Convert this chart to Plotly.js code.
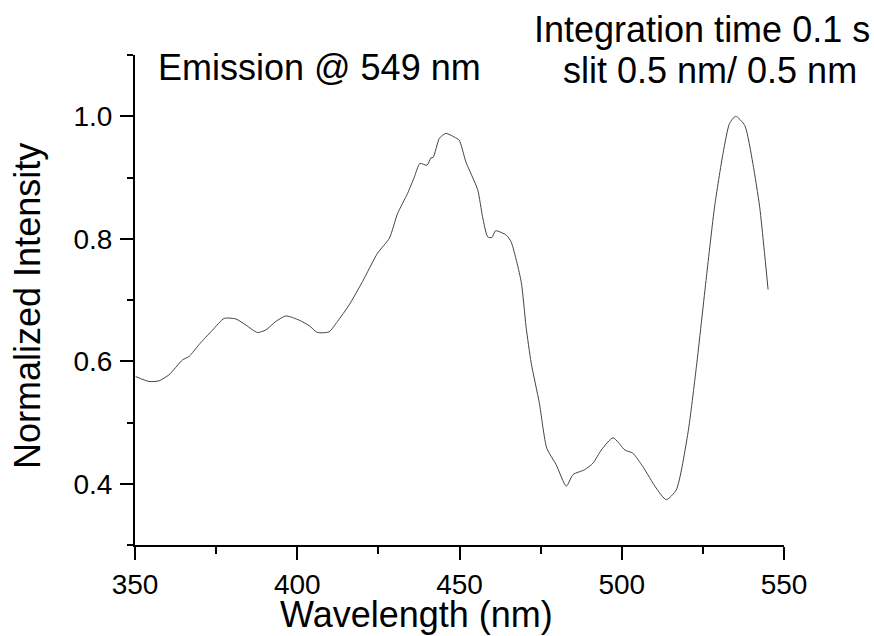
<!DOCTYPE html>
<html>
<head>
<meta charset="utf-8">
<script src="https://cdn.plot.ly/plotly-3.0.1.min.js"></script>
<style>html,body{margin:0;padding:0;background:#fff;}#chart{width:874px;height:636px;}</style>
</head>
<body>
<div id="chart"></div>
<script>
const wavelength = [350.2,354.3,357.4,360.5,364.6,366.7,369.7,373.9,377.5,381.1,384.2,387.7,390.3,393.4,396.5,400.6,403.7,406.2,409.8,412.4,416.0,420.1,424.7,428.4,430.9,434.0,436.1,437.8,440.0,441.2,441.9,443.8,445.8,448.4,449.9,452.0,455.6,457.1,458.7,460.0,461.1,464.4,465.9,469.0,470.5,472.1,474.6,476.9,479.8,482.9,485.0,488.6,491.2,493.7,497.3,501.0,503.4,506.5,510.6,513.7,516.8,520.4,523.0,526.1,528.6,531.2,533.2,535.1,537.9,540.4,542.5,543.8,545.1];
const intensity = [0.575,0.567,0.568,0.578,0.602,0.608,0.627,0.651,0.670,0.669,0.659,0.647,0.651,0.665,0.674,0.667,0.658,0.647,0.648,0.665,0.692,0.730,0.776,0.801,0.841,0.874,0.901,0.923,0.920,0.932,0.933,0.964,0.972,0.966,0.961,0.925,0.880,0.836,0.803,0.802,0.813,0.806,0.795,0.730,0.657,0.597,0.532,0.458,0.431,0.396,0.415,0.423,0.434,0.455,0.475,0.455,0.450,0.428,0.393,0.374,0.390,0.483,0.591,0.738,0.852,0.939,0.988,1.000,0.985,0.923,0.852,0.787,0.717];
const xTickVals = [350,400,450,500,550];
const yTickVals = [0.4,0.6,0.8,1.0];
const yTickText = ["0.4","0.6","0.8","1.0"];
const xTitle = 'Wavelength (nm)';
const yTitle = 'Normalized Intensity';

const font = "Liberation Sans, Arial, sans-serif";
Plotly.newPlot('chart', [{
  x: wavelength, y: intensity, type: 'scatter', mode: 'lines',
  line: {color: '#444444', width: 1, shape: 'spline', smoothing: 0.6},
  hoverinfo: 'none'
}], {
  width: 874, height: 636,
  margin: {l: 135, r: 90, t: 55, b: 91},
  paper_bgcolor: '#ffffff', plot_bgcolor: '#ffffff',
  showlegend: false,
  font: {family: font, color: '#000'},
  xaxis: {
    range: [350, 550], tickvals: xTickVals, ticktext: xTickVals.map(String),
    showgrid: false, zeroline: false, showline: true, linecolor: '#000', linewidth: 2,
    ticks: 'outside', ticklen: 13, tickwidth: 2, tickcolor: '#000',
    tickfont: {size: 28, family: font},
    minor: {dtick: 25, tick0: 350, ticks: 'outside', ticklen: 7, tickwidth: 2, tickcolor: '#000', showgrid: false},
    automargin: false
  },
  yaxis: {
    range: [0.3, 1.1], tickvals: yTickVals, ticktext: yTickText,
    showgrid: false, zeroline: false, showline: true, linecolor: '#000', linewidth: 2,
    ticks: 'outside', ticklen: 13, tickwidth: 2, tickcolor: '#000',
    tickfont: {size: 28, family: font}, ticklabelstandoff: 2,
    minor: {dtick: 0.1, tick0: 0.3, ticks: 'outside', ticklen: 6, tickwidth: 2, tickcolor: '#000', showgrid: false},
    automargin: false
  },
  annotations: [
    {text: xTitle, xref: 'paper', yref: 'paper', x: 0.4345, y: -0.1420, xanchor: 'center', yanchor: 'middle', showarrow: false, font: {size: 36, family: font, color: '#000'}},
    {text: yTitle, xref: 'paper', yref: 'paper', x: -0.1649, y: 0.4878, xanchor: 'center', yanchor: 'middle', textangle: -90, showarrow: false, font: {size: 36, family: font, color: '#000'}},
    {text: 'Emission @ 549 nm', xref: 'paper', yref: 'paper', x: 0.033, y: 0.975, xanchor: 'left', yanchor: 'middle', showarrow: false, font: {size: 36, family: font, color: '#000'}},
    {text: 'Integration time 0.1 s', xref: 'paper', yref: 'paper', x: 0.8737, y: 1.052, xanchor: 'center', yanchor: 'middle', showarrow: false, font: {size: 36, family: font, color: '#000'}},
    {text: 'slit 0.5 nm/ 0.5 nm', xref: 'paper', yref: 'paper', x: 0.886, y: 0.969, xanchor: 'center', yanchor: 'middle', showarrow: false, font: {size: 36, family: font, color: '#000'}}
  ]
}, {staticPlot: true});
</script>
</body>
</html>
